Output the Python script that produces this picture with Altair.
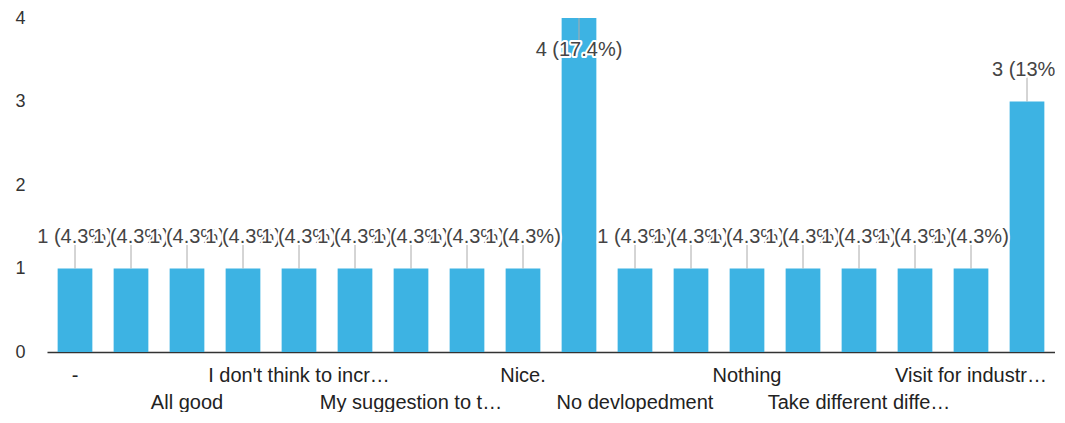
import json
import altair as alt
import pandas as pd

# ---- data ----
categories = [
    "-", "(unlabelled 2)", "All good", "(unlabelled 4)",
    "I don't think to incr…", "(unlabelled 6)", "My suggestion to t…", "(unlabelled 8)",
    "Nice.", "(unlabelled 10)", "No devlopedment", "(unlabelled 12)",
    "Nothing", "(unlabelled 14)", "Take different diffe…", "(unlabelled 16)",
    "Visit for industr…", "(unlabelled 18)",
]
counts = [1, 1, 1, 1, 1, 1, 1, 1, 1, 4, 1, 1, 1, 1, 1, 1, 1, 3]
# which row of the x axis each category label is shown on (0 = not shown)
axis_rows = [1, 0, 2, 0, 1, 0, 2, 0, 1, 0, 2, 0, 1, 0, 2, 0, 1, 0]
y_ticks = [0, 1, 2, 3, 4]

total = sum(counts)
labels = [f"{c} ({round(100 * c / total, 1):g}%)" for c in counts]
df = pd.DataFrame({
    "idx": list(range(len(categories))),
    "category": categories,
    "count": counts,
    "label": labels,
})

# axis label text: row 1 -> [label], row 2 -> ["", label], hidden -> ""
axis_text = []
for cat, row in zip(categories, axis_rows):
    if row == 1:
        axis_text.append([cat])
    elif row == 2:
        axis_text.append(["", cat])
    else:
        axis_text.append("")
label_expr = (
    json.dumps(axis_text, ensure_ascii=False)
    + "[indexof(" + json.dumps(categories, ensure_ascii=False) + ", datum.value)]"
)

FONT = "Liberation Sans"
BAR = "#3DB3E3"
max_count = max(counts)

base = alt.Chart(df).encode(
    x=alt.X(
        "category:N",
        sort=categories,
        scale=alt.Scale(paddingInner=0.38, paddingOuter=0.19),
        axis=alt.Axis(
            title=None, ticks=False, domain=True, domainColor="#333333",
            domainWidth=1.5, labelAngle=0, labelFont=FONT, labelFontSize=20,
            labelColor="#222222", labelLineHeight=27, labelPadding=13,
            labelOverlap=False, labelLimit=400, labelExpr=label_expr,
        ),
    ),
    y=alt.Y(
        "count:Q",
        scale=alt.Scale(domain=[0, 4]),
        axis=alt.Axis(
            title=None, values=y_ticks, ticks=False, domain=False, grid=False,
            labelFont=FONT, labelFontSize=18, labelColor="#333333",
            labelPadding=22,
        ),
    ),
)

bars = base.mark_bar(color=BAR)

leaders_up = base.transform_filter(alt.datum["count"] < max_count).mark_rule(
    color="#aaaaaa", strokeWidth=1, y2Offset=-24
).encode(y2="count:Q")
leaders_down = base.transform_filter(alt.datum["count"] >= max_count).mark_rule(
    color="#aaaaaa", strokeWidth=1, y2Offset=24
).encode(y2="count:Q")

layers = [bars, leaders_up, leaders_down]
for i, c in enumerate(counts):
    dy = 32 if c >= max_count else -32
    sub = base.transform_filter(alt.datum.idx == i)
    halo = sub.mark_text(
        font=FONT, fontSize=20, dy=dy, fill="white", stroke="white",
        strokeWidth=4, strokeJoin="round",
    ).encode(text="label:N")
    txt = sub.mark_text(
        font=FONT, fontSize=20, dy=dy, color="#444444",
    ).encode(text="label:N")
    layers += [halo, txt]

chart = alt.layer(*layers).properties(
    width=1008,
    height=334,
    autosize=alt.AutoSizeParams(type="none"),
    padding={"left": 39, "top": 10, "right": 0, "bottom": 60},
).configure_view(stroke=None)

chart.save("out.html", embed_options={"renderer": "svg", "actions": False})
